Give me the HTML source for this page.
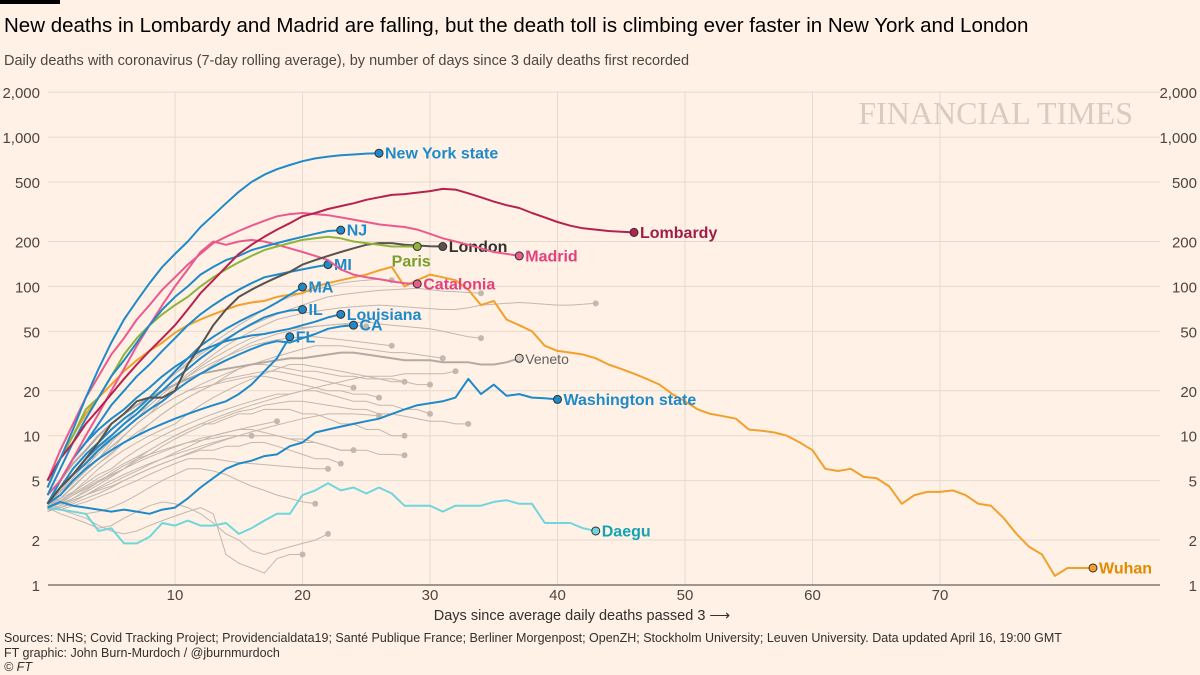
<!DOCTYPE html>
<html><head><meta charset="utf-8">
<style>
body{margin:0;background:#fff1e5;width:1200px;height:675px;overflow:hidden;font-family:"Liberation Sans",sans-serif}
svg{display:block}
</style></head>
<body>
<svg id="chart" width="1200" height="675" xmlns="http://www.w3.org/2000/svg">
<rect width="1200" height="675" fill="#fff1e5"/>
<rect x="0" y="0" width="60" height="4" fill="#000"/>
<text x="4" y="32" font-size="20.5" fill="#000">New deaths in Lombardy and Madrid are falling, but the death toll is climbing ever faster in New York and London</text>
<text x="4" y="65" font-size="14.5" fill="#4d4640">Daily deaths with coronavirus (7-day rolling average), by number of days since 3 daily deaths first recorded</text>
<text x="1133" y="124" font-size="32" text-anchor="end" fill="#d9cbbd" font-family="Liberation Serif, serif">FINANCIAL TIMES</text>
<g id="grid"></g><g id="greys"></g><g id="series"></g><g id="labels"></g>
<text x="582" y="620" font-size="14.5" text-anchor="middle" fill="#33302e">Days since average daily deaths passed 3 ⟶</text>
<text x="4" y="642" font-size="12.5" fill="#33302e">Sources: NHS; Covid Tracking Project; Providencialdata19; Santé Publique France; Berliner Morgenpost; OpenZH; Stockholm University; Leuven University. Data updated April 16, 19:00 GMT</text>
<text x="4" y="657" font-size="12.5" fill="#33302e">FT graphic: John Burn-Murdoch / @jburnmurdoch</text>
<text x="4" y="671" font-size="12.5" font-style="italic" fill="#33302e">© FT</text>
</svg>
<script>
const yTicks=[1,2,5,10,20,50,100,200,500,1000,2000];
const yTickLabels=["1","2","5","10","20","50","100","200","500","1,000","2,000"];
const xTicks=[10,20,30,40,50,60,70];
const ny=[4.5,7,11,18,28,42,60,80,105,135,165,200,250,300,360,430,500,560,610,650,690,720,740,755,765,775,780];
const lombardy=[5,7,9,12,15,19,24,30,37,45,55,70,90,110,135,165,190,215,240,265,295,310,330,345,360,380,395,410,415,425,435,450,445,420,395,370,350,335,310,290,270,255,245,240,235,232,230];
const madrid=[5,8,12,18,25,35,45,60,75,95,115,140,165,195,215,235,255,275,295,305,310,305,300,290,280,270,260,255,250,240,225,210,200,190,180,170,165,160];
const catalonia=[4,5,7,10,14,20,28,40,55,75,100,130,170,200,190,200,205,200,190,180,170,160,150,130,120,115,112,108,105,104];
const london=[3.5,4.5,5.5,7,9,12,14,17,18,18,20,30,40,55,70,85,95,105,115,125,140,150,160,170,180,190,195,195,190,188,186,185];
const paris=[4.5,7,10,15,18,25,35,45,55,65,75,85,100,115,130,145,160,175,185,195,205,210,215,210,200,195,190,185,185,185];
const nj=[4,6,9,13,18,25,32,42,55,70,85,100,120,135,150,160,175,185,195,205,215,225,235,238];
const mi=[3.5,5,7,9,12,16,20,25,30,37,45,55,65,75,85,95,105,115,120,125,130,135,140];
const ma=[3.5,4.5,6,7.5,9,11,13,15,18,22,27,33,40,46,52,58,64,70,78,88,99];
const il=[3.5,4.5,5.5,7,8.5,10,12,14,17,20,24,28,33,38,44,50,56,62,66,69,70];
const louisiana=[3.5,5,7,9,11,13,15,18,21,25,29,33,37,40,43,45,47,48,50,52,55,58,62,65];
const ca=[3.5,4.5,5.5,6.5,8,9.5,11,13,15,17,20,23,26,29,32,35,38,41,43,42,45,48,52,54,55];
const fl=[3.5,4,5,6,7,8,9,10,11,12,13,14,15,16,17,19,22,27,33,46];
const washington=[3.3,3.6,3.4,3.3,3.2,3.1,3.2,3.1,3.0,3.2,3.3,3.8,4.5,5.2,6,6.5,6.8,7.3,7.5,8.5,9,10.5,11,11.5,12,12.5,13,14,15,16,16.5,17,18,24,19,22,18.5,19,18,17.8,17.5];
const daegu=[3.3,3.2,3.1,3,2.3,2.4,1.9,1.9,2.1,2.6,2.5,2.7,2.5,2.5,2.6,2.2,2.4,2.7,3,3,4,4.3,4.8,4.3,4.5,4.1,4.5,4.1,3.4,3.4,3.4,3.1,3.4,3.4,3.4,3.6,3.7,3.5,3.5,2.6,2.6,2.6,2.4,2.3];
const wuhan=[5,7,10,14,18,22,27,32,37,42,49,55,60,65,70,75,78,80,85,88,90,100,105,110,115,120,128,135,100,110,120,115,110,95,75,80,60,55,50,40,37,36,35,33,30,28,26,24,22,19,17,15,14,13.5,13,11,10.8,10.5,10,9,8,6,5.8,6,5.3,5.2,4.6,3.5,4,4.2,4.2,4.3,4,3.5,3.4,2.8,2.2,1.8,1.6,1.15,1.3,1.3,1.3];
const veneto=[3.5,5,6.5,8,10,12,14,16,18,20,22,24,26,27,28,29,30,31,32,33,33,34,35,36,36,35,34,33,32,32,32,31,31,31,30,30,31,33];
const greySeries=[
[3.3,4,5,6,8,10,12,15,18,22,26,30,35,40,45,50,55,60,65,70,75,80,85,88,90,92,94,95,96,97,95,93,92,91,90],
[3.5,4,5,6,7,9,11,13,16,19,22,26,30,35,40,45,50,55,60,63,66,68,70,72,73,74,75,74,73,72,71,70,70,72,75,76,77,78,77,76,75,75,76,77],
[3.2,4,5,6,7,8,10,12,14,17,20,23,26,30,34,38,42,45,48,50,52,54,55,56,57,58,56,55,54,53,52,50,48,46,45],
[3.3,3.8,4.5,5.5,6.5,7.5,9,10,12,14,16,18,20,22,25,28,30,32,34,36,38,40,40,40,39,38,37,36,36,35,34,33],
[3.2,3.6,4.2,5,6,7,8,9,10,11,12,14,16,18,20,22,24,26,28,30,30,29,28,27,26,25,24,24,23,22,22],
[3.5,3.8,4.2,4.8,5.5,6,7,8,9,10,11,12,13,14,15,16,17,18,19,19,20,20,19,18,17,17,16,16,15,15,14],
[3.3,3.5,4,4.5,5,5.5,6,7,8,9,10,11,12,12,13,14,14,15,15,15,14,14,13,12,12,11,11,10,10],
[3.1,3.3,3.6,4,4.5,5,5.5,6,6.5,7,7.5,8,8.5,9,9.5,10,10,10,10,9.5,9,9,8.5,8,8],
[3.4,3.5,3.7,4,4.3,4.6,5,5.5,6,6.5,7,7.5,8,8,8.5,8.5,9,9,8.5,8,7.5,7,7,6.5],
[3.2,3.2,3.4,3.6,3.9,4.2,4.6,5,5.5,6,6.5,7,7,7,6.8,6.6,6.5,6.4,6.3,6.2,6.1,6,6],
[3.3,3,2.8,2.6,2.4,2.5,2.8,3.1,3.4,3.6,3.5,3.3,3,2.6,2.2,2,1.7,1.6,1.7,1.8,1.9,2.0,2.2],
[3.6,3.2,3,2.8,2.5,2.3,2.2,2.3,2.5,2.7,2.9,3.1,3.3,3.0,1.6,1.4,1.3,1.2,1.5,1.6,1.6],
[3.3,3.5,3.8,4.2,4.7,5.3,6,6.8,7.5,8.5,9.5,10.5,11.5,12.5,13.5,14.5,15,16,16.5,17,17,16.5,16,15.5,15,15,14,14,13.5,13,12.5,12.5,12,12],
[3.4,3.7,4.1,4.6,5.2,5.8,6.5,7.2,8,9,10,11,12,13,14,15,16,17,18,19,20,21,22,23,24,25,25,25,26,26,26,26,27],
[3.2,3.4,3.7,4,4.4,4.8,5.3,5.8,6.4,7,7.7,8.4,9.2,10,10.5,11,11,10.5,10,9.5,9.5,9,8.5,8,8,8,7.5,7.5,7.4],
[3.5,4.2,5,6,7,8.5,10,12,14,16,18,20,22,24,26,28,30,30,29,28,27,27,26,25,25,24,24,23,23],
[3.1,3.4,3.8,4.3,4.9,5.6,6.3,7,7.5,8,8.5,9,9.3,9.6,10,10,10],
[3.4,3.6,4,4.4,4.9,5.4,6,6.6,7.2,7.8,8.4,9,9.6,10,10.5,11,11.5,12,12.5],
[3.3,3.2,3.1,3,3.1,3.3,3.6,4,4.5,5,5.5,6,6,5.8,5.5,5,4.6,4.3,4,3.8,3.6,3.5],
[3.2,3.3,3.5,3.8,4.1,4.5,5,5.5,6,6.5,7,7.6,8.2,8.8,9.4,10,10.6,11.2,11.8,12.4,13,13.5,14,14,14,13.8,13.6],
[3.4,4.2,5.2,6.5,8,10,12,15,18,22,26,31,36,42,48,55,62,70,78,85,90,95,100,105,108,110,112,110],
[3.3,4,5,6.2,7.6,9.3,11,13,15,18,21,25,29,33,37,41,45,48,50,52,53,54,55,56,55,54],
[3.5,4.3,5.4,6.7,8.3,10,12,14,16,19,22,25,28,31,34,37,40,42,44,45,46,46,45,44,43,42,41,40],
[3.2,3.8,4.6,5.5,6.5,7.7,9,10.5,12,14,16,18,20,22,24,25,26,27,27,26,25,24,23,22,21],
[3.4,4,4.8,5.8,7,8.4,10,12,14,16,18,20,21,22,23,24,25,25,24,23,22,21,20,20,19,19,18]
];
const X0=47.5, XPX=12.75, Y0=585, DEC=149.3;
function xs(d){return X0+d*XPX;}
function ys(v){return Y0-Math.log10(v)*DEC;}
const NS='http://www.w3.org/2000/svg';
function mk(tag,attrs,parent){const e=document.createElementNS(NS,tag);for(const k in attrs)e.setAttribute(k,attrs[k]);parent.appendChild(e);return e;}
const grid=document.getElementById('grid');
yTicks.forEach((t,i)=>{
  if(t>1){const l=mk('line',{x1:48,x2:1160,y1:ys(t),y2:ys(t),stroke:'#e6d9ce','stroke-width':1},grid);
  
  }
  const a=mk('text',{x:40,y:ys(t)+6,'font-size':15,'text-anchor':'end',fill:'#4d4640'},grid);a.textContent=yTickLabels[i];
  
  
  const b=mk('text',{x:1197,y:ys(t)+6,'font-size':15,'text-anchor':'end',fill:'#4d4640'},grid);b.textContent=yTickLabels[i];
  
  
});
xTicks.forEach(t=>{
  const l=mk('line',{x1:xs(t),x2:xs(t),y1:ys(2000),y2:585,stroke:'#e6d9ce','stroke-width':1},grid);
  
  
  const a=mk('text',{x:xs(t),y:600,'font-size':15,'text-anchor':'middle',fill:'#4d4640'},grid);a.textContent=t;
  
  
});
const ax=mk('line',{x1:48,x2:1160,y1:585,y2:585,stroke:'#66605c','stroke-width':1.2},grid);


function pathD(arr){return arr.map((v,i)=>(i?'L':'M')+xs(i).toFixed(1)+','+ys(v).toFixed(1)).join('');}
const greys=document.getElementById('greys');
greySeries.forEach(arr=>{
  const p=mk('path',{d:pathD(arr),fill:'none',stroke:'#c2b8b0','stroke-width':1},greys);
  
  
  const c=mk('circle',{cx:xs(arr.length-1),cy:ys(arr[arr.length-1]),r:3,fill:'#c2b8b0'},greys);
  
  
});
const series=document.getElementById('series');
const named=[
 {a:veneto,c:'#b3aaa3',w:2,n:'veneto',lab:'Veneto',lc:'#66605c',b:false,dot:'#d9cfc6'},
 {a:daegu,c:'#6fd6dc',w:2,n:'daegu',lab:'Daegu',lc:'#13a4b4',b:true},
 {a:wuhan,c:'#f2a02c',w:2,n:'wuhan',lab:'Wuhan',lc:'#e28a00',b:true},
 {a:washington,c:'#1f8ac9',w:2,n:'washington',lab:'Washington state',lc:'#1f8ac9',b:true},
 {a:fl,c:'#1f8ac9',w:2,n:'fl',lab:'FL',lc:'#1f8ac9',b:true},
 {a:ca,c:'#1f8ac9',w:2,n:'ca',lab:'CA',lc:'#1f8ac9',b:true},
 {a:louisiana,c:'#1f8ac9',w:2,n:'louisiana',lab:'Louisiana',lc:'#1f8ac9',b:true},
 {a:il,c:'#1f8ac9',w:2,n:'il',lab:'IL',lc:'#1f8ac9',b:true},
 {a:ma,c:'#1f8ac9',w:2,n:'ma',lab:'MA',lc:'#1f8ac9',b:true},
 {a:mi,c:'#1f8ac9',w:2,n:'mi',lab:'MI',lc:'#1f8ac9',b:true},
 {a:catalonia,c:'#ea5a8f',w:2,n:'catalonia',lab:'Catalonia',lc:'#e3417a',b:true},
 {a:london,c:'#58524e',w:2,n:'london',lab:'London',lc:'#33302e',b:true},
 {a:paris,c:'#8fb43a',w:2,n:'paris',lab:'Paris',lc:'#7a9e2a',b:true,below:true},
 {a:nj,c:'#1f8ac9',w:2,n:'nj',lab:'NJ',lc:'#1f8ac9',b:true},
 {a:madrid,c:'#ea5a8f',w:2,n:'madrid',lab:'Madrid',lc:'#e3417a',b:true},
 {a:lombardy,c:'#b5224f',w:2,n:'lombardy',lab:'Lombardy',lc:'#a01d48',b:true},
 {a:ny,c:'#1f8ac9',w:2,n:'new-york',lab:'New York state',lc:'#1f8ac9',b:true}
];
named.forEach(s=>{
  const p=mk('path',{d:pathD(s.a),fill:'none',stroke:s.c,'stroke-width':s.w,'stroke-linejoin':'round'},series);
  
  
  const i=s.a.length-1, cx=xs(i), cy=ys(s.a[i]);
  const c=mk('circle',{cx:cx,cy:cy,r:4,fill:s.dot||s.c,stroke:'#33302e','stroke-width':1},series);
  
  
  const t=mk('text',s.below?{x:cx-6,y:cy+20,'font-size':16,'text-anchor':'middle',fill:s.lc,'font-weight':'bold'}:{x:cx+6,y:cy+5.5,'font-size':s.b?16:14,fill:s.lc,'font-weight':s.b?'bold':'normal'},series);
  t.textContent=s.lab;
  
  
});
</script>
</body></html>
